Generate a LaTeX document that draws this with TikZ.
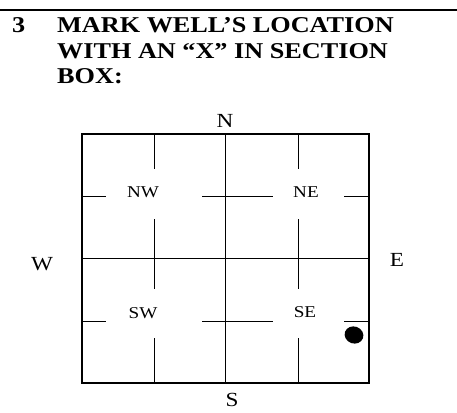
\documentclass[tikz,border=0pt]{standalone}
\usepackage{graphicx}
\usepackage{fontspec}
\setmainfont{Liberation Serif}
\newcommand{\wide}[1]{\scalebox{1.16}[1]{#1}}
\tikzset{
  titletext/.style={anchor=base west,inner sep=0pt,font=\fontsize{22.6}{25}\selectfont\bfseries},
  compass/.style={inner sep=0pt,font=\fontsize{20}{24}\selectfont},
  quarter/.style={inner sep=0pt,font=\fontsize{16.5}{20}\selectfont},
  gridline/.style={line width=0.9pt}
}
\begin{document}
\begin{tikzpicture}[x=1pt,y=-1pt]
\useasboundingbox (0,0) rectangle (457,412);
\draw[line width=1.6pt] (0,10) -- (457,10);
\node[titletext] (num) at (12,33) {\wide{3}};
\node[titletext] (line1) at (57,33) {\wide{MARK WELL’S LOCATION}};
\node[titletext] (line2) at (57,58) {\wide{WITH AN “X” IN SECTION}};
\node[titletext] (line3) at (57,83) {\wide{BOX:}};
\draw[line width=1.3pt] (82,134) rectangle (369,383);
\draw[gridline] (225,134) -- (225,383);
\draw[gridline] (82,258) -- (369,258);
\foreach \x in {154,298} {
  \draw[gridline] (\x,134) -- (\x,169);
  \draw[gridline] (\x,219) -- (\x,289);
  \draw[gridline] (\x,338) -- (\x,383);
}
\foreach \y in {196,321} {
  \draw[gridline] (82,\y) -- (106,\y);
  \draw[gridline] (202,\y) -- (273,\y);
  \draw[gridline] (344,\y) -- (369,\y);
}
\node[quarter] (nw) at (143,192) {\wide{NW}};
\node[quarter] (ne) at (306,192) {\wide{NE}};
\node[quarter] (sw) at (143,313) {\wide{SW}};
\node[quarter] (se) at (305,312) {\wide{SE}};
\node[compass] (n) at (225,121) {\wide{N}};
\node[compass] (s) at (232,400) {\wide{S}};
\node[compass] (w) at (42,264) {\wide{W}};
\node[compass] (e) at (397,260) {\wide{E}};
\fill[rotate around={-20:(354,335)}] (354,335) ellipse (9.5 and 8.5);
\end{tikzpicture}
\end{document}
